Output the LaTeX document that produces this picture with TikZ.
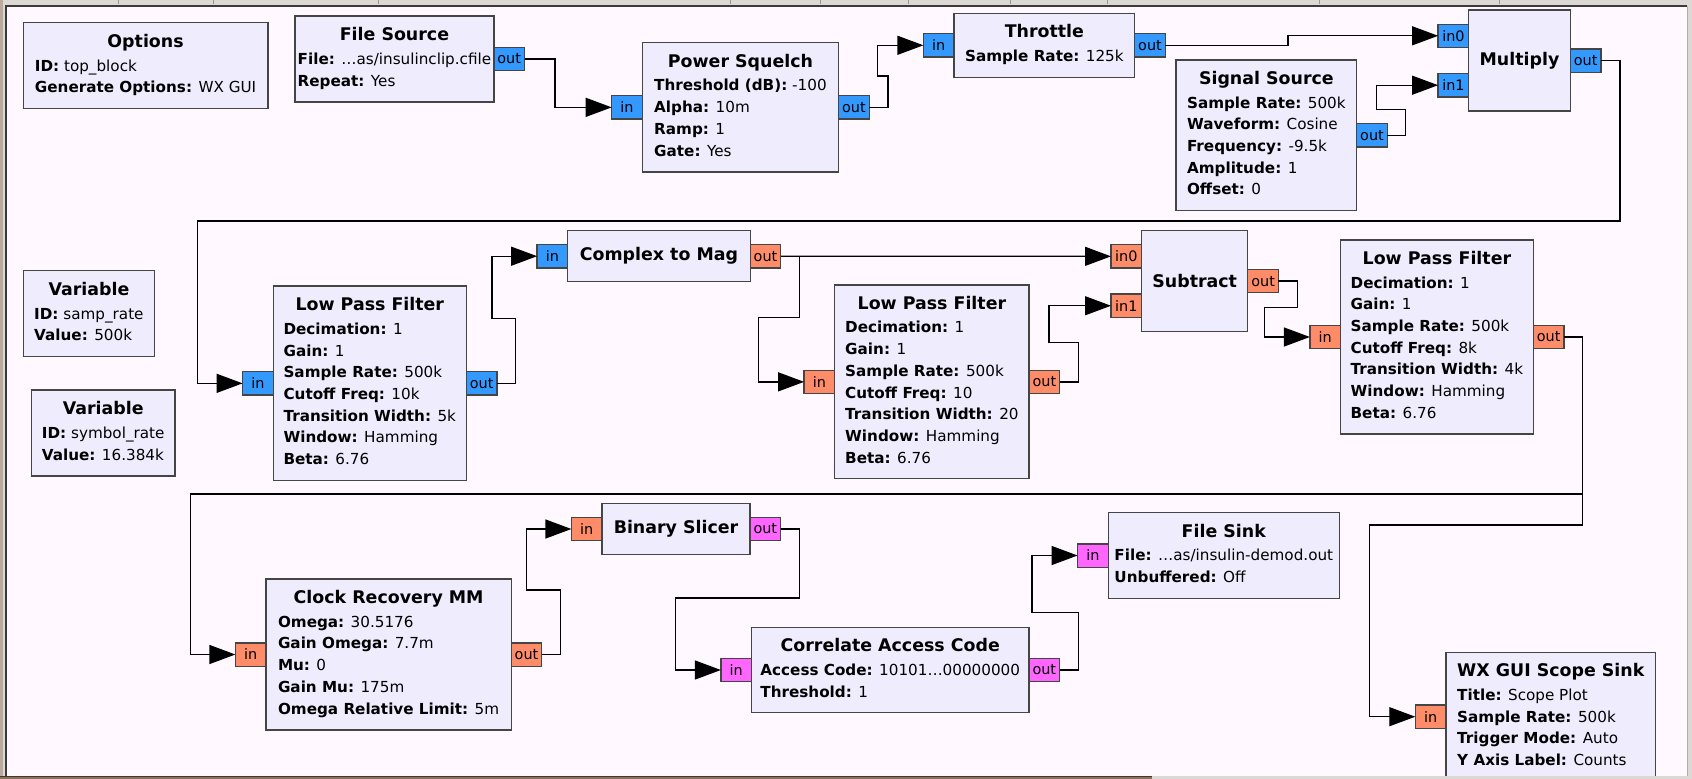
\documentclass[tikz,border=0pt]{standalone}
\usepackage{fontspec}
\setmainfont{DejaVu Sans}
\usetikzlibrary{positioning, arrows.meta}

\definecolor{canvasbg}{HTML}{FFF9FF}
\definecolor{blockfill}{HTML}{EFEDFD}
\definecolor{blockline}{HTML}{454545}
\definecolor{cplxport}{HTML}{3399FF}
\definecolor{fltport}{HTML}{FF8C69}
\definecolor{byteport}{HTML}{FF66FF}
\definecolor{chrome}{HTML}{DCD8D3}
\definecolor{chromedark}{HTML}{3C3A38}
\definecolor{chromebrown}{HTML}{8E7258}

\newcommand{\grctitle}[1]{\multicolumn{1}{@{}c@{}}{\fontsize{17.4}{21.7}\selectfont\bfseries #1}}
\newcommand{\grcparam}[2]{\textbf{#1:} #2}

\begin{document}
\begin{tikzpicture}[x=1pt, y=-1pt,
grcblock/.style={rectangle, draw=blockline, fill=blockfill, line width=1.3pt, inner sep=0pt, outer sep=0pt, anchor=north west, font=\fontsize{15.2}{21.7}\selectfont},
onlytitle/.style={font=\fontsize{17.4}{21.7}\selectfont\bfseries},
port/.style={rectangle, draw=blockline, line width=1.3pt, inner sep=0pt, outer sep=0pt, minimum width=30.6pt, minimum height=23.3pt, font=\fontsize{14.4}{16}\selectfont},
cplx/.style={port, fill=cplxport},
flt/.style={port, fill=fltport},
byt/.style={port, fill=byteport},
wire/.style={-{Triangle[length=26pt,width=19pt]}, line width=1.3pt, black},
]
\useasboundingbox (0,0) rectangle (1692,779);
%window frame
\fill[chrome] (0,0) rectangle (1692,779);
\fill[chromebrown!60] (0,0) rectangle (2.5,779);
\foreach \tx in {118,213,378,730,820,908,1010,1107,1319,1499}
  \draw[chrome!70!black, line width=0.8pt] (\tx,0) -- (\tx,4);
\fill[canvasbg] (6,6) rectangle (1687,776);
\draw[chrome!80!black, line width=1pt] (1687,6) -- (1687,776);
\fill[chromebrown] (0,776) rectangle (1152,779);
\draw[chromedark, line width=1.5pt] (0,776.5) -- (1152,776.5);
\draw[chromedark, line width=1.5pt] (6,776) -- (6,6) -- (1687,6);

\begin{scope}
\clip (7,6.8) rectangle (1686,775.5);
%blocks
\node[grcblock, minimum width=244.7pt, minimum height=86pt] (options) at (23.2,22.7) {\begin{tabular}{@{}l@{}}\grctitle{Options}\\[2pt]
  \grcparam{ID}{top\_block}\\ \grcparam{Generate Options}{WX GUI}\end{tabular}};
\node[grcblock, minimum width=198.9pt, minimum height=86pt] (fsrc) at (295,16) {\begin{tabular}{@{}l@{}}\grctitle{File Source}\\[2pt]
  \grcparam{File}{…as/insulinclip.cfile}\\ \grcparam{Repeat}{Yes}\end{tabular}};
\node[grcblock, minimum width=196.3pt, minimum height=129.3pt] (psq) at (642.3,42.7) {\begin{tabular}{@{}l@{}}\grctitle{Power Squelch}\\[2pt]
  \grcparam{Threshold (dB)}{-100}\\ \grcparam{Alpha}{10m}\\ \grcparam{Ramp}{1}\\ \grcparam{Gate}{Yes}\end{tabular}};
\node[grcblock, minimum width=180.7pt, minimum height=64pt] (thr) at (954,13.3) {\begin{tabular}{@{}l@{}}\grctitle{Throttle}\\[2pt]
  \grcparam{Sample Rate}{125k}\end{tabular}};
\node[grcblock, minimum width=180.7pt, minimum height=150.7pt] (sigsrc) at (1176,60) {\begin{tabular}{@{}l@{}}\grctitle{Signal Source}\\[2pt]
  \grcparam{Sample Rate}{500k}\\ \grcparam{Waveform}{Cosine}\\ \grcparam{Frequency}{-9.5k}\\ \grcparam{Amplitude}{1}\\ \grcparam{Offset}{0}\end{tabular}};
\node[grcblock, onlytitle, minimum width=101.6pt, minimum height=101pt] (mul) at (1468.7,10) {Multiply};
\node[grcblock, minimum width=131.4pt, minimum height=86pt] (samprate) at (23.2,270.7) {\begin{tabular}{@{}l@{}}\grctitle{Variable}\\[2pt]
  \grcparam{ID}{samp\_rate}\\ \grcparam{Value}{500k}\end{tabular}};
\node[grcblock, minimum width=143.6pt, minimum height=86pt] (symrate) at (31.4,390) {\begin{tabular}{@{}l@{}}\grctitle{Variable}\\[2pt]
  \grcparam{ID}{symbol\_rate}\\ \grcparam{Value}{16.384k}\end{tabular}};
\node[grcblock, minimum width=193.2pt, minimum height=194.7pt] (lpf1) at (273.2,286) {\begin{tabular}{@{}l@{}}\grctitle{Low Pass Filter}\\[2pt]
  \grcparam{Decimation}{1}\\ \grcparam{Gain}{1}\\ \grcparam{Sample Rate}{500k}\\ \grcparam{Cutoff Freq}{10k}\\
  \grcparam{Transition Width}{5k}\\ \grcparam{Window}{Hamming}\\ \grcparam{Beta}{6.76}\end{tabular}};
\node[grcblock, onlytitle, minimum width=182.5pt, minimum height=51pt] (c2m) at (567.7,230.7) {Complex to Mag};
\node[grcblock, minimum width=194.4pt, minimum height=193.7pt] (lpf2) at (834.7,285) {\begin{tabular}{@{}l@{}}\grctitle{Low Pass Filter}\\[2pt]
  \grcparam{Decimation}{1}\\ \grcparam{Gain}{1}\\ \grcparam{Sample Rate}{500k}\\ \grcparam{Cutoff Freq}{10}\\
  \grcparam{Transition Width}{20}\\ \grcparam{Window}{Hamming}\\ \grcparam{Beta}{6.76}\end{tabular}};
\node[grcblock, onlytitle, minimum width=106.2pt, minimum height=100.7pt] (sub) at (1141.6,230.7) {Subtract};
\node[grcblock, minimum width=192.8pt, minimum height=194pt] (lpf3) at (1340.5,240) {\begin{tabular}{@{}l@{}}\grctitle{Low Pass Filter}\\[2pt]
  \grcparam{Decimation}{1}\\ \grcparam{Gain}{1}\\ \grcparam{Sample Rate}{500k}\\ \grcparam{Cutoff Freq}{8k}\\
  \grcparam{Transition Width}{4k}\\ \grcparam{Window}{Hamming}\\ \grcparam{Beta}{6.76}\end{tabular}};
\node[grcblock, minimum width=245.2pt, minimum height=151pt] (clkrec) at (266,579) {\begin{tabular}{@{}l@{}}\grctitle{Clock Recovery MM}\\[2pt]
  \grcparam{Omega}{30.5176}\\ \grcparam{Gain Omega}{7.7m}\\ \grcparam{Mu}{0}\\ \grcparam{Gain Mu}{175m}\\
  \grcparam{Omega Relative Limit}{5m}\end{tabular}};
\node[grcblock, onlytitle, minimum width=148pt, minimum height=51.4pt] (slicer) at (602,503.3) {Binary Slicer};
\node[grcblock, minimum width=277.5pt, minimum height=85.4pt] (corr) at (751.5,627.3) {\begin{tabular}{@{}l@{}}\grctitle{Correlate Access Code}\\[2pt]
  \grcparam{Access Code}{10101…00000000}\\ \grcparam{Threshold}{1}\end{tabular}};
\node[grcblock, minimum width=231.2pt, minimum height=85.6pt] (fsink) at (1108.2,512.7) {\begin{tabular}{@{}l@{}}\grctitle{File Sink}\\[2pt]
  \grcparam{File}{…as/insulin-demod.out}\\ \grcparam{Unbuffered}{Off}\end{tabular}};
\node[grcblock, minimum width=209.8pt, minimum height=128.8pt] (scope) at (1445.9,652.3) {\begin{tabular}{@{}l@{}}\grctitle{WX GUI Scope Sink}\\[2pt]
  \grcparam{Title}{Scope Plot}\\ \grcparam{Sample Rate}{500k}\\ \grcparam{Trigger Mode}{Auto}\\ \grcparam{Y Axis Label}{Counts}\end{tabular}};

%ports
\node[cplx, right=0pt of fsrc] (fsrc-out) {out};
\node[cplx, left=0pt of psq] (psq-in) {in};
\node[cplx, right=0pt of psq] (psq-out) {out};
\node[cplx, left=0pt of thr] (thr-in) {in};
\node[cplx, right=0pt of thr] (thr-out) {out};
\node[cplx, right=0pt of sigsrc] (sigsrc-out) {out};
\node[cplx, anchor=east] (mul-in0) at ([yshift=24.7pt]mul.west) {in0};
\node[cplx, anchor=east] (mul-in1) at ([yshift=-24.7pt]mul.west) {in1};
\node[cplx, right=0pt of mul] (mul-out) {out};
\node[cplx, left=0pt of lpf1] (lpf1-in) {in};
\node[cplx, right=0pt of lpf1] (lpf1-out) {out};
\node[cplx, left=0pt of c2m] (c2m-in) {in};
\node[flt, right=0pt of c2m] (c2m-out) {out};
\node[flt, left=0pt of lpf2] (lpf2-in) {in};
\node[flt, right=0pt of lpf2] (lpf2-out) {out};
\node[flt, anchor=east] (sub-in0) at ([yshift=24.7pt]sub.west) {in0};
\node[flt, anchor=east] (sub-in1) at ([yshift=-24.7pt]sub.west) {in1};
\node[flt, right=0pt of sub] (sub-out) {out};
\node[flt, left=0pt of lpf3] (lpf3-in) {in};
\node[flt, right=0pt of lpf3] (lpf3-out) {out};
\node[flt, left=0pt of clkrec] (clkrec-in) {in};
\node[flt, right=0pt of clkrec] (clkrec-out) {out};
\node[flt, left=0pt of slicer] (slicer-in) {in};
\node[byt, right=0pt of slicer] (slicer-out) {out};
\node[byt, left=0pt of corr] (corr-in) {in};
\node[byt, right=0pt of corr] (corr-out) {out};
\node[byt, left=0pt of fsink] (fsink-in) {in};
\node[flt, left=0pt of scope] (scope-in) {in};

%connections
\draw[wire] (fsrc-out.east) -| (555,83) |- (psq-in.west);
\draw[wire] (psq-out.east) -| (888,76) -| (877.6,60) |- (thr-in.west);
\draw[wire] (thr-out.east) -| (1288,40) |- (mul-in0.west);
\draw[wire] (sigsrc-out.east) -| (1405.8,109.3) -| (1376.4,95) |- (mul-in1.west);
\draw[wire] (mul-out.east) -| (1620,221) -| (197.5,300) |- (lpf1-in.west);
\draw[wire] (lpf1-out.east) -| (515.3,318.3) -| (492,290) |- (c2m-in.west);
\draw[wire] (c2m-out.east) -- (sub-in0.west);
\draw[wire] (c2m-out.east) -| (799.5,317.3) -| (758.6,350) |- (lpf2-in.west);
\draw[wire] (lpf2-out.east) -| (1078.5,342.7) -| (1049,320) |- (sub-in1.west);
\draw[wire] (sub-out.east) -| (1297.6,307.7) -| (1264.8,320) |- (lpf3-in.west);
\draw[wire] (lpf3-out.east) -| (1582.4,494) -| (190.2,570) |- (clkrec-in.west);
\draw[wire] (lpf3-out.east) -| (1582.4,525) -| (1369.8,600) |- (scope-in.west);
\draw[wire] (clkrec-out.east) -| (560.6,590) -| (526.5,560) |- (slicer-in.west);
\draw[wire] (slicer-out.east) -| (799.4,598) -| (675.4,630) |- (corr-in.west);
\draw[wire] (corr-out.east) -| (1078.3,612.3) -| (1032,580) |- (fsink-in.west);
\end{scope}
\end{tikzpicture}
\end{document}
